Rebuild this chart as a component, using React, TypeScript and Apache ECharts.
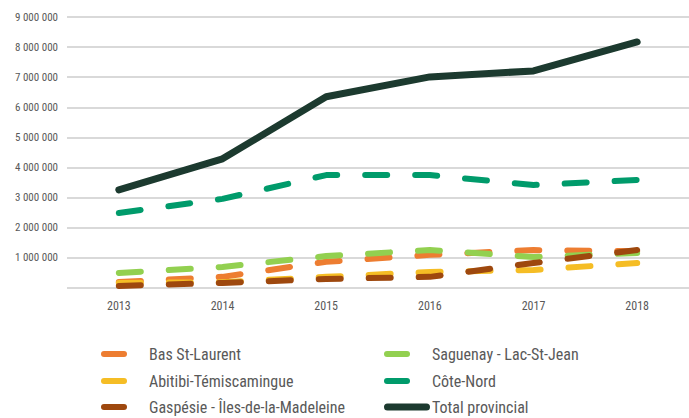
import React, { useEffect, useRef } from "react";
import * as echarts from "echarts";

const years = ["2013", "2014", "2015", "2016", "2017", "2018"];
const basStLaurent = [200000, 370000, 870000, 1100000, 1260000, 1220000];
const saguenay = [500000, 700000, 1060000, 1260000, 1030000, 1160000];
const abitibi = [170000, 190000, 370000, 530000, 600000, 830000];
const coteNord = [2490000, 2960000, 3750000, 3750000, 3420000, 3590000];
const gaspesie = [70000, 170000, 300000, 370000, 830000, 1260000];
const total = [3260000, 4290000, 6350000, 7010000, 7210000, 8170000];

const seriesNames = [
  "Bas St-Laurent",
  "Saguenay - Lac-St-Jean",
  "Abitibi-Témiscamingue",
  "Côte-Nord",
  "Gaspésie - Îles-de-la-Madeleine",
  "Total provincial",
];
const seriesColors = ["#ED7D31", "#92D050", "#F5BD25", "#009B6B", "#9E480E", "#1C3A2F"];

const FONT = "'Roboto Condensed', 'Liberation Sans Narrow', 'DejaVu Sans Condensed', Roboto, sans-serif";

export default function App() {
  const ref = useRef<HTMLDivElement>(null);
  useEffect(() => {
    document.body.style.margin = "0";
    const chart = echarts.init(ref.current!, null, { renderer: "svg" });
    const allData = [basStLaurent, saguenay, abitibi, coteNord, gaspesie, total];
    const series = allData.map((data, i) => {
      const isTotal = i === 5;
      return {
        name: seriesNames[i],
        type: "line",
        data,
        showSymbol: false,
        symbol: "none",
        itemStyle: { color: seriesColors[i] },
        lineStyle: {
          color: seriesColors[i],
          width: isTotal ? 7 : 6,
          type: isTotal ? "solid" : [22, 28],
          cap: "round",
          join: "round",
        },
      };
    });

    // legend layout: row-major two columns, as in the reference
    const slots = [
      { col: 0, row: 0 },
      { col: 1, row: 0 },
      { col: 0, row: 1 },
      { col: 1, row: 1 },
      { col: 0, row: 2 },
      { col: 1, row: 2 },
    ];
    const rowY = [354, 381, 407];
    const legendGraphics: any[] = [];
    seriesNames.forEach((name, i) => {
      const { col, row } = slots[i];
      const isTotal = i === 5;
      const iconX = col === 0 ? 101 : 384;
      const iconW = isTotal ? 46 : 26;
      const iconH = isTotal ? 7 : 6;
      const textX = col === 0 ? 149 : 432;
      legendGraphics.push({
        type: "rect",
        x: iconX,
        y: rowY[row] - iconH / 2,
        shape: { x: 0, y: 0, width: iconW, height: iconH, r: iconH / 2 },
        style: { fill: seriesColors[i] },
        silent: true,
      });
      legendGraphics.push({
        type: "text",
        x: textX,
        y: rowY[row],
        style: {
          text: name,
          fill: "#595959",
          fontSize: 16,
          fontFamily: FONT,
          verticalAlign: "middle",
          align: "left",
        },
        silent: true,
      });
    });

    chart.setOption({
      animation: false,
      backgroundColor: "#ffffff",
      grid: { left: 67, right: -14, top: 17, bottom: 130 },
      xAxis: {
        type: "category",
        data: years,
        boundaryGap: true,
        axisLine: { show: false },
        axisTick: { show: false },
        axisLabel: { color: "#595959", fontSize: 12, fontFamily: FONT, margin: 12 },
      },
      yAxis: {
        type: "value",
        min: 0,
        max: 9000000,
        interval: 1000000,
        axisLine: { show: false },
        axisTick: { show: false },
        splitLine: { lineStyle: { color: "#d9d9d9", width: 2 } },
        axisLabel: {
          color: "#595959",
          fontSize: 11,
          fontFamily: FONT,
          margin: 9,
          formatter: (v: number) =>
            v === 0 ? "" : String(v).replace(/\B(?=(\d{3})+(?!\d))/g, " "),
        },
      },
      graphic: legendGraphics,
      series,
    });
    return () => chart.dispose();
  }, []);
  return <div ref={ref} style={{ width: 689, height: 418 }} />;
}
